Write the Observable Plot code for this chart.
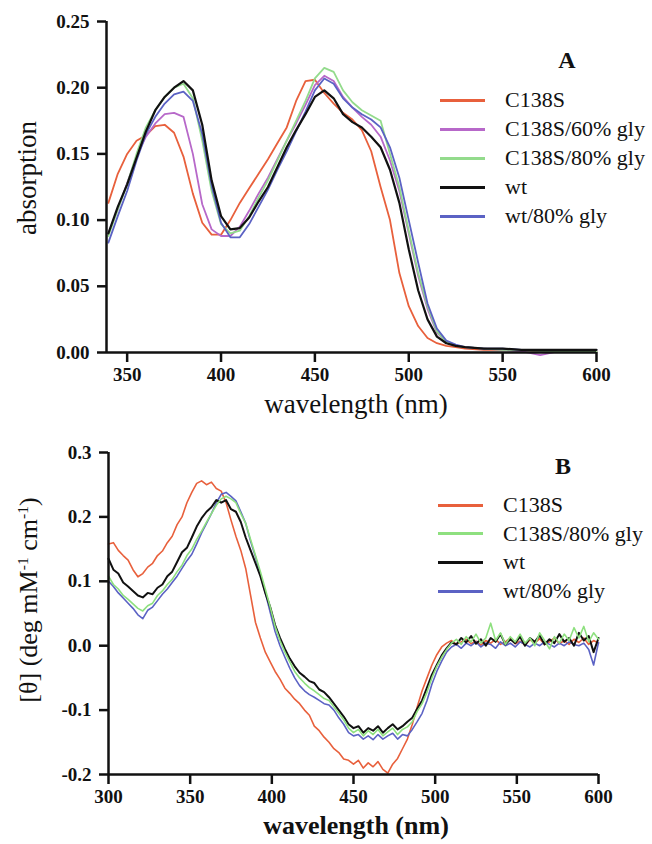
<!DOCTYPE html>
<html><head><meta charset="utf-8">
<script src="https://cdn.jsdelivr.net/npm/d3@7"></script>
<script src="https://cdn.jsdelivr.net/npm/@observablehq/plot@0.6"></script>
<style>
body{margin:0;background:#fff;}
#wrap{position:relative;width:652px;height:844px;font-family:"Liberation Serif",Tinos,"Times New Roman",Times,"DejaVu Serif",serif;color:#111;overflow:hidden;}
#wrap svg{position:absolute;left:0;}
.abs{position:absolute;white-space:nowrap;line-height:1;}
.cen{transform:translate(-50%,-50%);}
.rot{transform:translate(-50%,-50%) rotate(-90deg);}
.sw{position:absolute;height:3px;width:45px;}
sup{font-size:0.6em;vertical-align:0.6em;line-height:0;}
</style></head><body><div id="wrap"></div>
<script>
// ---------- Panel A: absorption ----------
const seriesA = ["C138S","C138S/60% gly","C138S/80% gly","wt","wt/80% gly"];
const colorsA = ["#e8603c","#b768c9","#93db8c","#111111","#5b62c4"];
const wlA = [340,345,350,355,360,365,370,375,380,385,
             390,395,400,405,410,415,420,425,430,435,
             440,445,450,455,460,465,470,475,480,485,
             490,495,500,505,510,515,520,525,530,
             540,550,560,570,580,590,600];
const absC138S = [0.113,0.135,0.150,0.160,0.164,0.171,0.172,0.166,0.148,0.120,
                  0.098,0.089,0.089,0.100,0.113,0.124,0.135,0.146,0.158,0.170,
                  0.190,0.205,0.206,0.196,0.188,0.181,0.176,0.168,0.152,0.125,
                  0.100,0.060,0.035,0.020,0.011,0.007,0.005,0.004,0.003,
                  0.002,0.002,0.002,0.001,0.001,0.001,0.001];
const absC138S60 = [0.090,0.108,0.128,0.148,0.163,0.173,0.180,0.181,0.178,0.150,
                    0.112,0.093,0.088,0.088,0.095,0.107,0.120,0.132,0.146,0.160,
                    0.173,0.187,0.202,0.209,0.205,0.193,0.185,0.178,0.172,0.163,
                    0.145,0.122,0.090,0.058,0.033,0.015,0.008,0.005,0.004,
                    0.003,0.002,0.001,-0.002,0.001,0.001,0.001];
const absC138S80 = [0.088,0.108,0.127,0.150,0.170,0.183,0.193,0.200,0.203,0.192,
                    0.160,0.122,0.097,0.090,0.092,0.103,0.117,0.130,0.145,0.160,
                    0.175,0.190,0.207,0.215,0.212,0.198,0.189,0.183,0.179,0.175,
                    0.150,0.125,0.092,0.060,0.035,0.016,0.008,0.005,0.004,
                    0.003,0.002,0.002,0.001,0.001,0.001,0.001];
const absWt = [0.090,0.110,0.127,0.147,0.167,0.183,0.193,0.200,0.205,0.198,
               0.172,0.130,0.103,0.093,0.094,0.102,0.114,0.125,0.140,0.155,
               0.168,0.180,0.193,0.198,0.192,0.180,0.174,0.170,0.163,0.155,
               0.138,0.113,0.078,0.047,0.025,0.012,0.007,0.005,0.004,
               0.003,0.003,0.002,0.002,0.002,0.002,0.002];
const absWt80 = [0.083,0.103,0.122,0.145,0.165,0.178,0.188,0.195,0.197,0.190,
                 0.165,0.126,0.098,0.087,0.087,0.097,0.110,0.123,0.138,0.152,
                 0.167,0.182,0.198,0.207,0.203,0.192,0.185,0.180,0.176,0.170,
                 0.155,0.132,0.100,0.068,0.037,0.018,0.009,0.006,0.004,
                 0.003,0.003,0.002,0.002,0.002,0.002,0.002];
const valuesA = [absC138S, absC138S60, absC138S80, absWt, absWt80];
const xTicksA = [350,400,450,500,550,600];
const yTicksA = [0,0.05,0.10,0.15,0.20,0.25];

// ---------- Panel B: CD ----------
const seriesB = ["C138S","C138S/80% gly","wt","wt/80% gly"];
const colorsB = ["#e8603c","#8ee07f","#111111","#5b62c4"];
const wlB = [300,303,306,309,312,315,318,321,324,327,
             330,333,336,339,342,345,348,351,354,357,
             360,363,366,369,372,375,378,381,384,387,
             390,393,396,399,402,405,408,411,414,417,
             420,423,426,429,432,435,438,441,444,447,
             450,453,456,459,462,465,468,471,474,477,
             480,483,486,489,492,495,498,501,504,507,
             510,513,516,519,522,525,528,531,534,537,
             540,543,546,549,552,555,558,561,564,567,
             570,573,576,579,582,585,588,591,594,597,
             600];
const cdC138S = [0.158,0.160,0.148,0.140,0.133,0.118,0.107,0.112,0.122,0.128,
                 0.140,0.147,0.160,0.170,0.188,0.200,0.222,0.238,0.252,0.256,
                 0.250,0.254,0.244,0.240,0.222,0.195,0.170,0.148,0.120,0.078,
                 0.036,0.012,-0.010,-0.025,-0.040,-0.052,-0.066,-0.074,-0.083,-0.090,
                 -0.100,-0.108,-0.125,-0.132,-0.142,-0.150,-0.160,-0.166,-0.176,-0.178,
                 -0.184,-0.178,-0.190,-0.182,-0.188,-0.180,-0.192,-0.198,-0.184,-0.175,
                 -0.160,-0.145,-0.122,-0.095,-0.070,-0.050,-0.030,-0.014,-0.002,0.004,
                 0.008,0.002,0.006,0.010,0.003,0.007,0.001,0.008,0.004,0.010,
                 0.002,0.006,0.012,0.003,0.007,0.001,0.009,0.004,0.011,0.002,
                 0.006,0.012,0.003,0.008,0.002,0.010,0.005,0.012,0.002,0.008,
                 0.004];
const cdC138S80 = [0.108,0.095,0.088,0.078,0.072,0.065,0.058,0.054,0.062,0.066,
                   0.078,0.085,0.095,0.103,0.115,0.125,0.140,0.150,0.165,0.178,
                   0.192,0.205,0.218,0.228,0.232,0.228,0.222,0.205,0.190,0.165,
                   0.140,0.115,0.088,0.060,0.030,0.008,-0.010,-0.025,-0.040,-0.050,
                   -0.058,-0.065,-0.070,-0.076,-0.082,-0.085,-0.095,-0.105,-0.115,-0.128,
                   -0.135,-0.130,-0.140,-0.132,-0.138,-0.130,-0.140,-0.134,-0.128,-0.138,
                   -0.130,-0.126,-0.118,-0.102,-0.090,-0.072,-0.050,-0.032,-0.018,-0.006,
                   0.004,0.010,0.002,0.014,0.006,0.018,0.004,0.012,0.035,0.008,
                   0.020,0.002,0.014,0.006,0.018,0.004,0.012,0.000,0.020,0.008,
                   -0.005,0.014,0.004,0.018,0.008,0.028,0.012,0.030,0.006,0.020,
                   0.010];
const cdWt = [0.135,0.118,0.112,0.098,0.092,0.085,0.078,0.075,0.082,0.080,
              0.090,0.095,0.108,0.115,0.130,0.145,0.152,0.168,0.185,0.198,
              0.208,0.215,0.226,0.222,0.226,0.212,0.208,0.192,0.168,0.148,
              0.128,0.108,0.082,0.060,0.032,0.012,-0.005,-0.020,-0.032,-0.042,
              -0.048,-0.055,-0.058,-0.068,-0.072,-0.080,-0.090,-0.100,-0.110,-0.122,
              -0.128,-0.125,-0.135,-0.128,-0.132,-0.125,-0.135,-0.128,-0.122,-0.130,
              -0.125,-0.118,-0.112,-0.098,-0.085,-0.065,-0.045,-0.030,-0.015,-0.004,
              0.005,0.002,0.012,0.005,0.015,0.003,0.010,0.000,0.012,0.006,
              0.018,0.002,0.010,0.004,0.014,0.000,0.012,0.006,0.016,0.002,
              0.010,0.004,0.018,0.006,0.012,0.000,0.020,0.008,0.015,-0.010,
              0.012];
const cdWt80 = [0.100,0.092,0.082,0.074,0.066,0.058,0.048,0.042,0.055,0.060,
                0.070,0.080,0.088,0.098,0.108,0.120,0.132,0.142,0.158,0.175,
                0.190,0.205,0.222,0.235,0.238,0.232,0.225,0.208,0.190,0.162,
                0.138,0.110,0.082,0.052,0.022,0.000,-0.018,-0.035,-0.050,-0.062,
                -0.070,-0.076,-0.080,-0.085,-0.090,-0.092,-0.100,-0.112,-0.122,-0.135,
                -0.140,-0.138,-0.145,-0.140,-0.146,-0.138,-0.145,-0.140,-0.136,-0.145,
                -0.138,-0.140,-0.130,-0.118,-0.105,-0.085,-0.060,-0.040,-0.024,-0.010,
                -0.002,0.002,-0.004,0.004,0.000,0.006,-0.002,0.004,0.002,-0.004,
                0.006,0.000,0.004,-0.002,0.006,0.002,-0.002,0.004,0.000,0.006,
                0.002,-0.002,0.004,0.000,0.006,0.002,0.000,0.004,-0.006,-0.030,
                0.005];
const valuesB = [cdC138S, cdC138S80, cdWt, cdWt80];
const xTicksB = [300,350,400,450,500,550,600];
const yTicksB = [-0.2,-0.1,0,0.1,0.2,0.3];

// ---------- build ----------
const wrap = document.getElementById("wrap");
const serif = '"Liberation Serif", Tinos, "Times New Roman", Times, "DejaVu Serif", serif';
const tidy = (wl, vals, names) => names.map((n, i) => wl.map((w, j) => ({wl: w, v: vals[i][j], series: n})));

function panel(opts) {
  const data = tidy(opts.wl, opts.values, opts.names);
  const lines = opts.order.map(i => Plot.line(data[i], {x: "wl", y: "v", stroke: opts.colors[i], strokeWidth: opts.names[i] === "wt" ? opts.sw + 0.4 : opts.sw, strokeLinejoin: "round"}));
  const p = Plot.plot({
    width: 652, height: opts.height,
    marginLeft: opts.ml, marginRight: opts.mr, marginTop: opts.mt, marginBottom: opts.mb,
    x: {domain: opts.xDomain},
    y: {domain: opts.yDomain},
    style: {fontFamily: serif, fontSize: "19px", fontWeight: "bold", color: "#111", background: "transparent"},
    marks: [
      ...lines,
      Plot.ruleY([opts.yDomain[0]], {stroke: "#111", strokeWidth: 2.5}),
      Plot.ruleX([opts.xDomain[0]], {stroke: "#111", strokeWidth: 2.5}),
      Plot.axisX({ticks: opts.xTicks, tickSize: 10, tickPadding: 5, strokeWidth: 2.5, label: null, fontFamily: serif, fontWeight: "bold", tickFormat: d => String(d)}),
      Plot.axisY({ticks: opts.yTicks, tickSize: 9, tickPadding: 8, strokeWidth: 2.5, label: null, fontFamily: serif, fontWeight: "bold", tickFormat: d => d.toFixed(opts.yDigits)})
    ]
  });
  p.style.top = opts.top + "px";
  wrap.appendChild(p);
}

panel({wl: wlA, values: valuesA, names: seriesA, colors: colorsA, order: [0,1,2,4,3], sw: 1.8,
       height: 420, top: 0, ml: 106, mr: 56, mt: 21, mb: 68,
       xDomain: [339, 600], yDomain: [0, 0.25], xTicks: xTicksA, yTicks: yTicksA, yDigits: 2});
panel({wl: wlB, values: valuesB, names: seriesB, colors: colorsB, order: [0,3,2,1], sw: 1.6,
       height: 424, top: 420, ml: 108, mr: 54, mt: 32, mb: 70,
       xDomain: [300, 600], yDomain: [-0.2, 0.3], xTicks: xTicksB, yTicks: yTicksB, yDigits: 1});

function addText(html, x, y, cls, css) {
  const d = document.createElement("div");
  d.className = "abs " + cls;
  d.innerHTML = html;
  d.style.left = x + "px"; d.style.top = y + "px";
  Object.assign(d.style, css || {});
  wrap.appendChild(d);
}
// axis titles and panel letters
addText("absorption", 27, 178, "rot", {fontSize: "27px"});
addText("wavelength (nm)", 356, 404, "cen", {fontSize: "27px"});
addText("A", 567, 60, "cen", {fontSize: "24px", fontWeight: "bold"});
addText("[θ] (deg mM<sup>-1</sup> cm<sup>-1</sup>)", 29, 600, "rot", {fontSize: "26px"});
addText("wavelength (nm)", 356, 826, "cen", {fontSize: "26px", fontWeight: "bold"});
addText("B", 563, 466, "cen", {fontSize: "24px", fontWeight: "bold"});

// legends
function legend(names, colors, x0, y0, step) {
  names.forEach((n, i) => {
    const y = y0 + i * step;
    const s = document.createElement("div");
    s.className = "sw";
    s.style.left = x0 + "px"; s.style.top = (y - 1.5) + "px"; s.style.background = colors[i];
    wrap.appendChild(s);
    addText(n, x0 + 65, y, "", {fontSize: "22px", transform: "translateY(-50%)"});
  });
}
legend(seriesA, colorsA, 440, 100, 29);
legend(seriesB, colorsB, 438, 505, 28.7);
</script></body></html>
